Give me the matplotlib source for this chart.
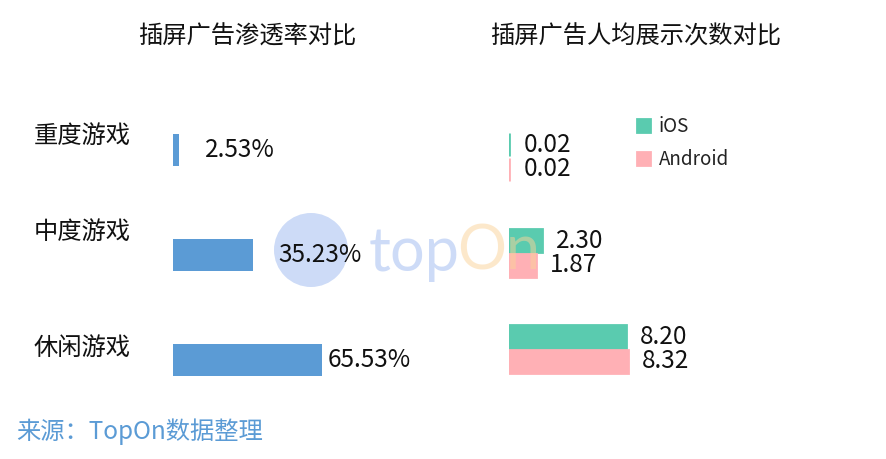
import matplotlib
matplotlib.use("Agg")
import matplotlib.pyplot as plt
from matplotlib.patches import Circle

plt.rcParams['font.family'] = ['Noto Sans CJK SC', 'DejaVu Sans']

# 数据
categories = ['重度游戏', '中度游戏', '休闲游戏']
penetration = [2.53, 35.23, 65.53]          # 插屏广告渗透率 (%)
ios_shows = [0.02, 2.30, 8.20]              # 人均展示次数 iOS
android_shows = [0.02, 1.87, 8.32]          # 人均展示次数 Android
titles = ['插屏广告渗透率对比', '插屏广告人均展示次数对比']
source = '来源：TopOn数据整理'

W, H = 886, 459
BLUE = '#5B9BD5'
TEAL = '#5ACBAF'
PINK = '#FFB0B5'


def box(left, top, width, height):
    # pixel box -> figure fraction
    return [left / W, 1 - (top + height) / H, width / W, height / H]


fig = plt.figure(figsize=(W / 100, H / 100), dpi=100)

# 左图：渗透率
ax1 = fig.add_axes(box(173, 97.5, 250, 315))
ypos = list(range(len(categories)))
ax1.barh(ypos, penetration, height=0.305, color=BLUE)
ax1.set_xlim(0, 250 / 2.274)
ax1.set_ylim(2.5, -0.5)
ax1.axis('off')
label_dx = [26, 25, 6]
for i, v in enumerate(penetration):
    ax1.annotate(f'{v:.2f}%', xy=(v, i), xytext=(label_dx[i], 0),
                 textcoords='offset pixels', va='center', ha='left',
                 fontsize=17.5, color='#111111')
cat_dy = [14, 23, 12]
for i, name in enumerate(categories):
    ax1.annotate(name, xy=(0, i), xycoords=ax1.get_yaxis_transform(),
                 xytext=(34 - 173, cat_dy[i]), textcoords='offset pixels',
                 ha='left', va='center', fontsize=17.5, color='#111111')

# 右图：人均展示次数
ax2 = fig.add_axes(box(509, 109, 250, 288))
h = 0.231
ax2.barh([y - 0.13 for y in ypos], ios_shows, height=h, color=TEAL,
         edgecolor=TEAL, linewidth=2, label='iOS')
ax2.barh([y + 0.13 for y in ypos], android_shows, height=h, color=PINK,
         edgecolor=PINK, linewidth=2, label='Android')
ax2.set_xlim(0, 250 / 14.3)
ax2.set_ylim(2.5, -0.5)
ax2.axis('off')
for i in ypos:
    ax2.annotate(f'{ios_shows[i]:.2f}', xy=(ios_shows[i], i - 0.13), xytext=(14, 0),
                 textcoords='offset pixels', va='center', ha='left',
                 fontsize=17.5, color='#111111')
    ax2.annotate(f'{android_shows[i]:.2f}', xy=(android_shows[i], i + 0.13), xytext=(14, 0),
                 textcoords='offset pixels', va='center', ha='left',
                 fontsize=17.5, color='#111111')

leg = ax2.legend(loc='upper left', bbox_to_anchor=(637 / W, 1 - 116 / H),
                 bbox_transform=fig.transFigure, frameon=False, fontsize=13.5,
                 handlelength=0.7, handleheight=0.7, handletextpad=0.45,
                 labelspacing=0.65, borderpad=0, borderaxespad=0)
for t in leg.get_texts():
    t.set_color('#222222')

# 标题
fig.text(247 / W, 1 - 37 / H, titles[0], ha='center', va='center', fontsize=17.5, color='#111111')
fig.text(636 / W, 1 - 37 / H, titles[1], ha='center', va='center', fontsize=17.5, color='#111111')

# 来源
fig.text(16 / W, 1 - 432 / H, source, ha='left', va='center', fontsize=17.5, color=BLUE)

# 水印 (画在坐标轴下方)
logo = Circle((311 / 100, (H - 250) / 100), 0.37, transform=fig.dpi_scale_trans,
              facecolor='#CDDBF7', edgecolor='none', zorder=-1)
fig.patches.append(logo)
fig.text(369 / W, 1 - 254 / H, 'top', fontsize=44, color='#9CB8F0', alpha=0.5,
         ha='left', va='center', family='Lato', zorder=10)
fig.text(457 / W, 1 - 252 / H, 'On', fontsize=44, color='#FBD399', alpha=0.5,
         ha='left', va='center', family='Lato', zorder=10)

fig.savefig('out.png', dpi=100)
